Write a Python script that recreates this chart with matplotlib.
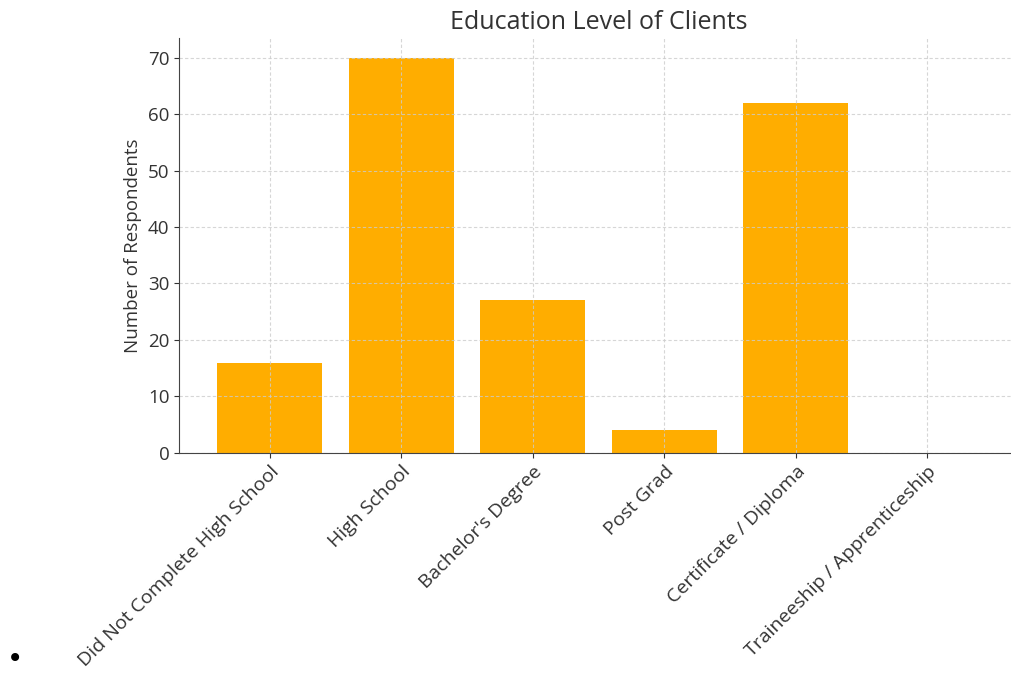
import matplotlib
matplotlib.use("Agg")
import matplotlib.pyplot as plt

plt.rcParams['font.family'] = ['Open Sans', 'DejaVu Sans']

categories = ['Did Not Complete High School', 'High School', "Bachelor's Degree",
              'Post Grad', 'Certificate / Diploma', 'Traineeship / Apprenticeship']
respondents = [16, 70, 27, 4, 62, 0]

fig = plt.figure(figsize=(10.12, 6.75), dpi=100)
ax = fig.add_axes([0.177, 0.329, 0.829, 0.615])

ax.bar(categories, respondents, color='#FFAD00', width=0.8)

ax.set_title('Education Level of Clients', fontsize=18, color='#333333', pad=6)
ax.set_ylabel('Number of Respondents', fontsize=13.5, color='#333333')
ax.set_yticks(range(0, 71, 10))
ax.tick_params(axis='y', labelsize=13.5, colors='#333333')
ax.tick_params(axis='x', labelsize=14, colors='#333333')
plt.setp(ax.get_xticklabels(), rotation=45, ha='right', rotation_mode='anchor')

ax.grid(True, linestyle=(0, (3, 2)), color='#cccccc', linewidth=0.8, alpha=0.8)
for side in ['top', 'right']:
    ax.spines[side].set_visible(False)
for side in ['left', 'bottom']:
    ax.spines[side].set_color('#444444')

fig.text(0.015, 0.024, '\u2022', fontsize=20, color='black',
         family='DejaVu Sans', ha='center', va='center')

fig.savefig('out.png', dpi=100)
